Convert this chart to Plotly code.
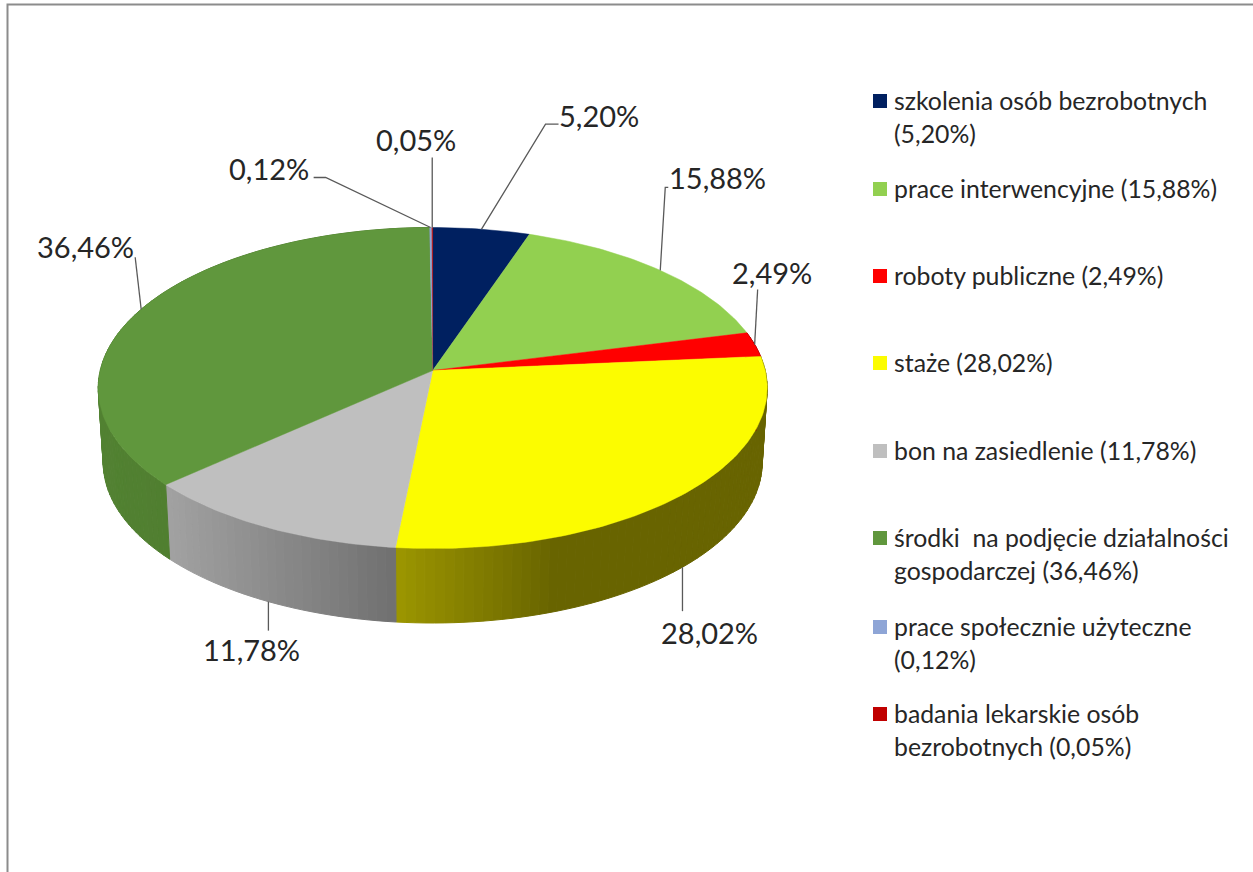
import math
import plotly.graph_objects as go

# --- data ---
categories = ["szkolenia osób bezrobotnych", "prace interwencyjne", "roboty publiczne", "staże",
              "bon na zasiedlenie", "środki  na podjęcie działalności gospodarczej",
              "prace społecznie użyteczne", "badania lekarskie osób bezrobotnych"]
values = [5.20, 15.88, 2.49, 28.02, 11.78, 36.46, 0.12, 0.05]
value_labels = ["5,20%", "15,88%", "2,49%", "28,02%", "11,78%", "36,46%", "0,12%", "0,05%"]
colors = ["#002060", "#92D050", "#FF0000", "#FCFC00", "#BFBFBF", "#60973D", "#8EA5D6", "#C00000"]
legend_lines = [["szkolenia osób bezrobotnych", "(5,20%)"],
                ["prace interwencyjne (15,88%)"],
                ["roboty publiczne (2,49%)"],
                ["staże (28,02%)"],
                ["bon na zasiedlenie (11,78%)"],
                ["środki  na podjęcie działalności", "gospodarczej (36,46%)"],
                ["prace społecznie użyteczne", "(0,12%)"],
                ["badania lekarskie osób", "bezrobotnych (0,05%)"]]

# --- layout / style parameters ---
W, H = 1253, 872
CX, CY = 432.7, 370.5
A, B, P = 158.6, 332.5, 0.109      # perspective projection of the disc
DEPTH, BOTTOM_X = 74.5, 0.985
FONT = "Lato"
LEGEND_SIZE, LABEL_SIZE = 24.8, 29
TEXT = "#262626"
LEADER = "#595959"
LEGEND_Y = [100, 188, 275, 362, 450, 537, 626, 713]
LEGEND_LINE_GAP = 33
# wall shading (screen x -> colour) per slice index
WALL_STOPS = {
    3: [(396, (156, 150, 0)), (555, (104, 100, 0)), (800, (104, 100, 0))],
    4: [(160, (163, 163, 163)), (396, (112, 112, 112))],
    5: [(90, (82, 130, 50)), (175, (80, 126, 48))],
    2: [(700, (120, 0, 0)), (800, (120, 0, 0))],
}
# label centre offset and leader bend, relative to the slice rim anchor
LABEL_OFFSET = [(117, -114), (57, -93), (17, -72), (27, 65), (-17, 48), (-56, -63), (-162, -59), (-16, -88)]
LEADER_BENDS = [[(64, -105), (77, -105)], [(5, -83), (8, -83)], [(3, -55)], [(0, 44)], [(0, 29)],
                [(-6, -52)], [(-105, -50), (-117, -50)], [(0, -70)]]


def top(frac):
    t = 2 * math.pi * frac
    u, v = math.sin(t), math.cos(t)
    s = 1 / (1 + P * v)
    return CX + B * u * s, CY - A * v * s


def bottom(frac):
    x, y = top(frac)
    return CX + (x - CX) * BOTTOM_X, y + DEPTH


def wall_color(stops, x):
    if x <= stops[0][0]:
        c = stops[0][1]
    elif x >= stops[-1][0]:
        c = stops[-1][1]
    else:
        for (x0, c0), (x1, c1) in zip(stops, stops[1:]):
            if x0 <= x <= x1:
                f = (x - x0) / (x1 - x0)
                c = tuple(round(a + (b - a) * f) for a, b in zip(c0, c1))
                break
    return "rgb(%d,%d,%d)" % c


total = sum(values)
fig = go.Figure()
cum = [0.0]
for v in values:
    cum.append(cum[-1] + v / total)

# side walls (only the part facing the viewer is visible)
for i, stops in WALL_STOPS.items():
    a, b = cum[i], cum[i + 1]
    n = max(2, int((b - a) * 360 / 1.5))
    for k in range(n):
        f0 = a + (b - a) * k / n
        f1 = a + (b - a) * (k + 1) / n
        p0, p1, q1, q0 = top(f0), top(f1), bottom(f1), bottom(f0)
        col = wall_color(stops, (p0[0] + p1[0]) / 2)
        fig.add_trace(go.Scatter(x=[p0[0], p1[0], q1[0], q0[0], p0[0]], y=[p0[1], p1[1], q1[1], q0[1], p0[1]],
                                 mode="lines", fill="toself", fillcolor=col, line=dict(color=col, width=1),
                                 hoverinfo="skip", showlegend=False))

# top faces
for i, cat in enumerate(categories):
    a, b = cum[i], cum[i + 1]
    n = max(2, int((b - a) * 360))
    pts = [top(a + (b - a) * k / n) for k in range(n + 1)]
    xs = [CX] + [p[0] for p in pts] + [CX]
    ys = [CY] + [p[1] for p in pts] + [CY]
    fig.add_trace(go.Scatter(x=xs, y=ys, mode="lines", fill="toself", fillcolor=colors[i],
                             line=dict(color=colors[i], width=0.5 if values[i] > 1 else 0.2), name=cat, showlegend=False,
                             hovertemplate=cat + ": " + value_labels[i] + "<extra></extra>"))

# data labels and leaders
for i, lab in enumerate(value_labels):
    mid = (cum[i] + cum[i + 1]) / 2
    ax, ay = bottom(mid) if math.cos(2 * math.pi * mid) < -0.3 else top(mid)
    xs = [ax] + [ax + d[0] for d in LEADER_BENDS[i]]
    ys = [ay] + [ay + d[1] for d in LEADER_BENDS[i]]
    fig.add_trace(go.Scatter(x=xs, y=ys, mode="lines", line=dict(color=LEADER, width=1.3),
                             hoverinfo="skip", showlegend=False))
    fig.add_annotation(x=ax + LABEL_OFFSET[i][0], y=ay + LABEL_OFFSET[i][1], text=lab, showarrow=False,
                       xanchor="center", yanchor="middle",
                       font=dict(family=FONT, size=LABEL_SIZE, color=TEXT))

# legend swatches and text
fig.add_trace(go.Scatter(x=[880] * len(LEGEND_Y), y=[y + 1 for y in LEGEND_Y], mode="markers",
                         marker=dict(symbol="square", size=14, color=colors, line=dict(width=0)),
                         hoverinfo="skip", showlegend=False))
for y0, lines in zip(LEGEND_Y, legend_lines):
    for j, line in enumerate(lines):
        fig.add_annotation(x=892, y=y0 + j * LEGEND_LINE_GAP, text=line, showarrow=False,
                           xanchor="left", yanchor="middle",
                           font=dict(family=FONT, size=LEGEND_SIZE, color=TEXT))

# outer frame (top and left edges only are inside the picture)
fig.add_shape(type="path", path=f"M 7.5 {H} L 7.5 4.5 L {W} 4.5", line=dict(color="#8C8C8C", width=2), layer="below")

fig.update_layout(
    width=W, height=H, margin=dict(l=0, r=0, t=0, b=0),
    paper_bgcolor="white", plot_bgcolor="white", showlegend=False,
    xaxis=dict(range=[0, W], visible=False, fixedrange=True),
    yaxis=dict(range=[H, 0], visible=False, fixedrange=True),
)
fig.write_html("out.html", config={"displayModeBar": False},
               post_script="document.body.style.margin='0';document.body.style.overflow='hidden';")
